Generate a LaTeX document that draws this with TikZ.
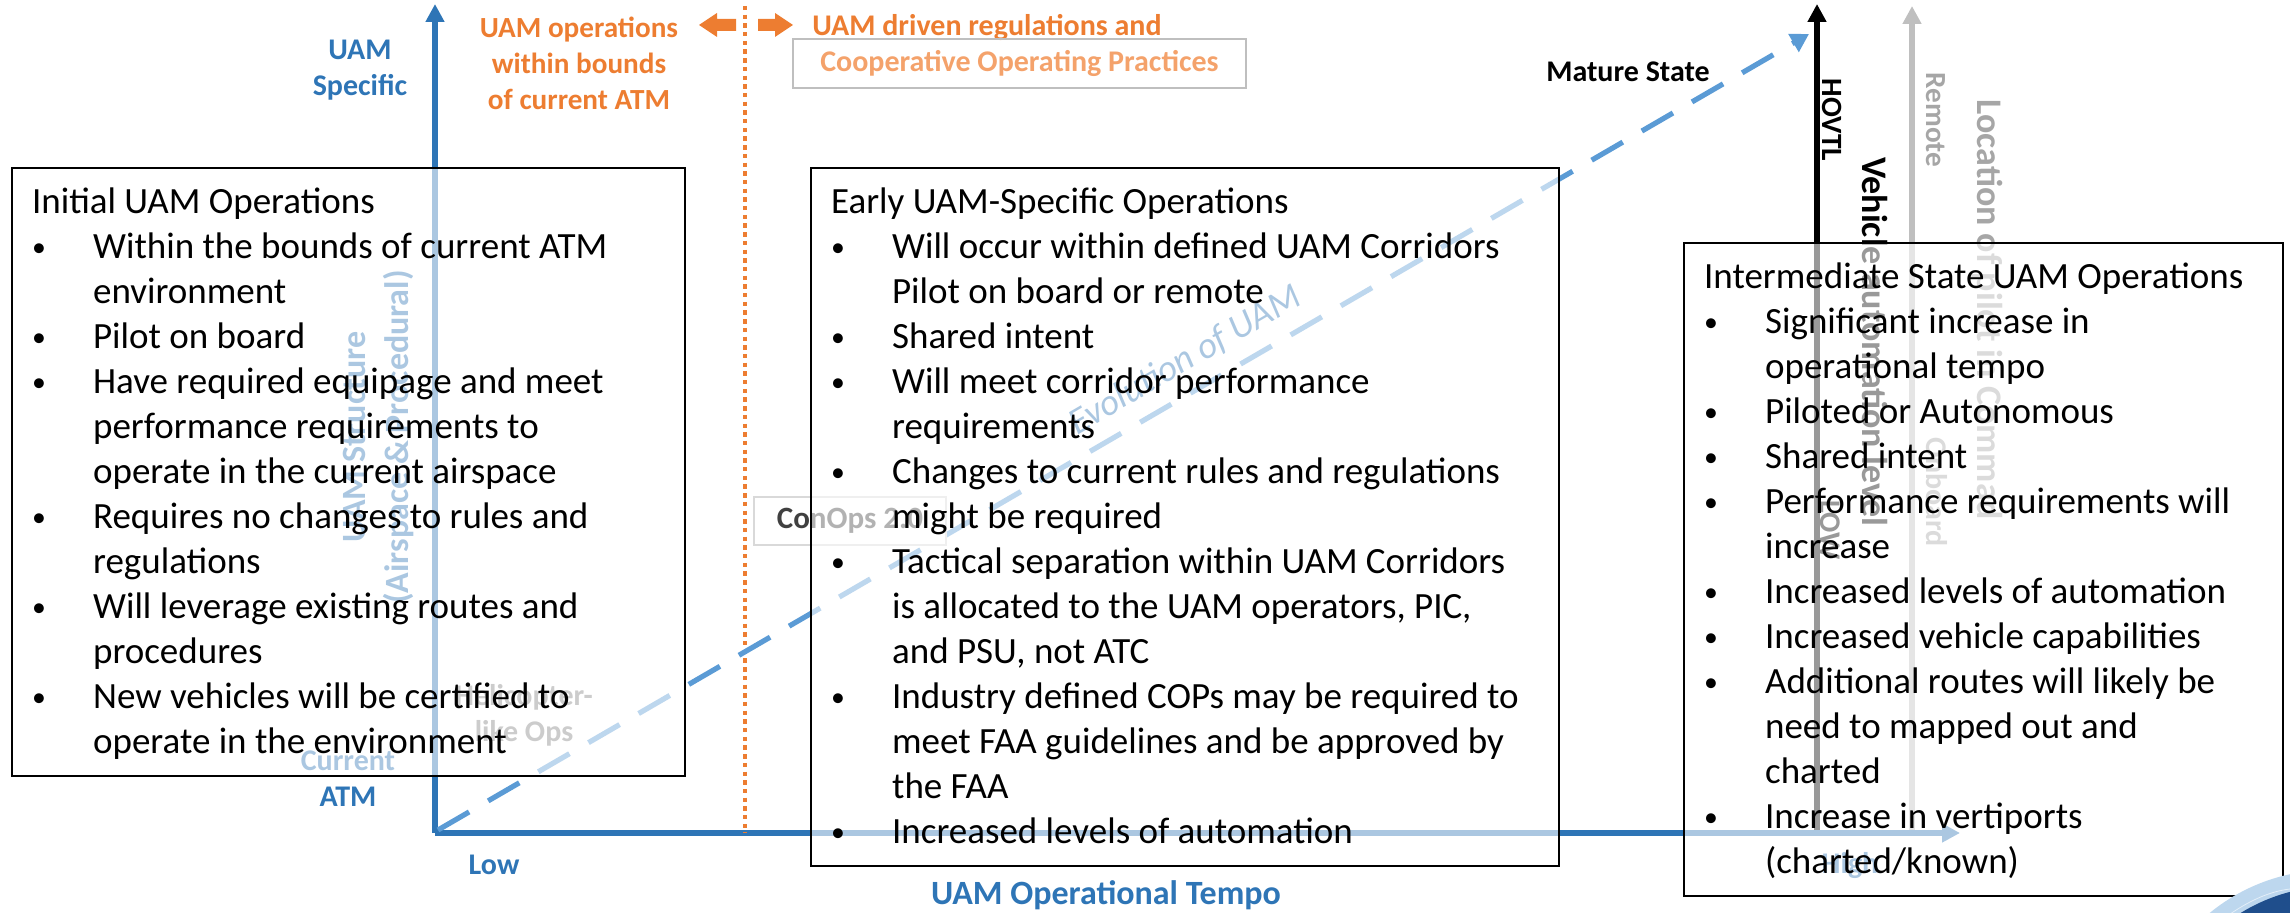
\documentclass[tikz,border=0pt]{standalone}
\usepackage{fontspec}
\usepackage{graphicx}
\setmainfont{Carlito}
\usetikzlibrary{arrows.meta}

\definecolor{axisblue}{HTML}{2E75B6}
\definecolor{dashblue}{HTML}{5B9BD5}
\definecolor{uamorange}{HTML}{ED7D31}
\definecolor{softorange}{HTML}{F4A26B}
\definecolor{pilotgray}{HTML}{A6A6A6}
\definecolor{arrowgray}{HTML}{BFBFBF}
\definecolor{labelgray}{HTML}{404040}
\definecolor{globeblue}{HTML}{1F4E8C}
\definecolor{globerim}{HTML}{BDD7EE}

% list lines inside the operation boxes
\newcommand\bul[1]{\makebox[30.5pt][l]{\raisebox{1pt}{\scalebox{0.75}{\textbullet}}}\mbox{#1}}
\newcommand\ind[1]{\hspace*{30.5pt}\mbox{#1}}
\newcommand\head[1]{\mbox{#1}}
\newcommand\opsbody[3]{\parbox[c][#2][t]{#1}{\fontsize{18.5pt}{22.5pt}\selectfont
  \parindent=0pt\leftskip=10pt\relax\rule{0pt}{22.5pt}#3}}

\tikzset{
  axisline/.style={axisblue, line width=2.6pt, -{Triangle[width=9pt,length=9pt]}},
  autoline/.style={black, line width=2.6pt, -{Triangle[width=9pt,length=9pt]}},
  pilotline/.style={arrowgray, line width=2.6pt, -{Triangle[width=9pt,length=9pt]}},
  evoline/.style={dashblue, line width=2.6pt, dash pattern=on 18pt off 11pt,
    -{Triangle[width=10pt,length=9pt]}},
  divider/.style={uamorange, line width=2.4pt, dash pattern=on 2.2pt off 2.15pt},
  opsbox/.style={draw=black, line width=1.1pt, fill=white, fill opacity=0.6,
    text opacity=1, inner sep=0pt, anchor=north west},
  lbl/.style={inner sep=0pt, font=\fontsize{15pt}{17.5pt}\selectfont\bfseries, align=center},
  bluelbl/.style={lbl, text=axisblue},
  orangelbl/.style={lbl, text=uamorange, font=\fontsize{14.6pt}{18pt}\selectfont\bfseries},
  vertlbl/.style={inner sep=0pt, rotate=-90, font=\fontsize{18pt}{21pt}\selectfont\bfseries},
}

\begin{document}
\begin{tikzpicture}[x=0.5pt, y=-0.5pt]
\useasboundingbox (0,0) rectangle (2290,913);

% ---------- frame of reference ----------
\coordinate (origin) at (435,833);
\coordinate (ytip) at (435,4);
\coordinate (xtip) at (1960,833);
\coordinate (evostart) at (438,830);
\coordinate (evotip) at (1809,34);
\coordinate (autobase) at (1817,830);
\coordinate (autotip) at (1817,4);
\coordinate (pilotbase) at (1912,830);
\coordinate (pilottip) at (1912,6);
\coordinate (divtop) at (745,6);
\coordinate (divbot) at (745,833);

\draw[pilotline] (pilotbase) -- (pilottip);
\draw[autoline] (autobase) -- (autotip);
\draw[axisline] (origin) -- (ytip);
\draw[axisline] (origin) -- (xtip);
\draw[divider] (divtop) -- (divbot);
\draw[evoline] (evostart) -- (evotip);

% orange block arrows either side of the divider
\fill[uamorange] (699,25) -- (717,13) -- (717,19) -- (736,19) -- (736,31) -- (717,31) -- (717,37) -- cycle;
\fill[uamorange] (793,25) -- (775,13) -- (775,19) -- (758,19) -- (758,31) -- (775,31) -- (775,37) -- cycle;

% ---------- labels partly covered by the boxes ----------
\node[lbl, text=axisblue, rotate=90, font=\fontsize{17pt}{21.5pt}\selectfont\bfseries]
  (ystructure) at (379,437) {UAM Structure\\(Airspace \& Procedural)};
\node[bluelbl] (current) at (348,779) {Current\\[0.5pt]ATM};
\node[lbl, text=gray] (heli) at (524,715) {Helicopter-\\[0.5pt]like Ops};
\node[draw=black!15, line width=0.6pt, fill=white, minimum width=96pt, minimum height=24pt,
  inner sep=0pt, text=labelgray, font=\fontsize{15.5pt}{18pt}\selectfont\bfseries]
  (conops) at (850,521) {ConOps 2.0};
\node[inner sep=0pt, rotate=30.2, text=axisblue, font=\fontsize{18.5pt}{22pt}\selectfont\itshape]
  (evolution) at (1185,360) {Evolution of UAM};
\node[lbl, text=black, rotate=-90, font=\fontsize{14.7pt}{17pt}\selectfont\bfseries] (hovtl) at (1832,120) {HOVTL};
\node[lbl, text=black, rotate=-90] (low2) at (1830,530) {LOW};
\node[vertlbl, text=black] (vehicle) at (1875,342) {Vehicle automation level};
\node[lbl, text=pilotgray, rotate=-90, font=\fontsize{14.6pt}{17pt}\selectfont\bfseries] (remote) at (1936,120) {Remote};
\node[lbl, text=pilotgray, rotate=-90] (onboard) at (1937,492) {Onboard};
\node[vertlbl, text=pilotgray] (pilotloc) at (1987,310) {Location of pilot in Commad};
\node[bluelbl] (high) at (1850,866) {High};

% ---------- operation boxes ----------
\node[opsbox] (initial) at (11,167) {\opsbody{336.5pt}{304pt}{%
  \head{Initial UAM Operations}\\
  \bul{Within the bounds of current ATM}\\
  \ind{environment}\\
  \bul{Pilot on board}\\
  \bul{Have required equipage and meet}\\
  \ind{performance requirements to}\\
  \ind{operate in the current airspace}\\
  \bul{Requires no changes to rules and}\\
  \ind{regulations}\\
  \bul{Will leverage existing routes and}\\
  \ind{procedures}\\
  \bul{New vehicles will be certified to}\\
  \ind{operate in the environment}}};

\node[opsbox] (early) at (810,167) {\opsbody{374pt}{349pt}{%
  \head{Early UAM-Specific Operations}\\
  \bul{Will occur within defined UAM Corridors}\\
  \ind{Pilot on board or remote}\\
  \bul{Shared intent}\\
  \bul{Will meet corridor performance}\\
  \ind{requirements}\\
  \bul{Changes to current rules and regulations}\\
  \ind{might be required}\\
  \bul{Tactical separation within UAM Corridors}\\
  \ind{is allocated to the UAM operators, PIC,}\\
  \ind{and PSU, not ATC}\\
  \bul{Industry defined COPs may be required to}\\
  \ind{meet FAA guidelines and be approved by}\\
  \ind{the FAA}\\
  \bul{Increased levels of automation}}};

\node[opsbox] (intermediate) at (1683,242) {\opsbody{299.5pt}{326.5pt}{%
  \head{Intermediate State UAM Operations}\\
  \bul{Significant increase in}\\
  \ind{operational tempo}\\
  \bul{Piloted or Autonomous}\\
  \bul{Shared intent}\\
  \bul{Performance requirements will}\\
  \ind{increase}\\
  \bul{Increased levels of automation}\\
  \bul{Increased vehicle capabilities}\\
  \bul{Additional routes will likely be}\\
  \ind{need to mapped out and}\\
  \ind{charted}\\
  \bul{Increase in vertiports}\\
  \ind{(charted/known)}}};

% ---------- labels in the open ----------
\node[bluelbl] (uamspecific) at (360,70) {UAM\\[0.5pt]Specific};
\node[orangelbl] (withinatm) at (579,63) {UAM operations\\within bounds\\of current ATM};
\node[lbl, text=uamorange, anchor=west] (driven) at (812,28) {UAM driven regulations and};
\node[draw=arrowgray, line width=0.6pt, minimum width=226.5pt, minimum height=24.5pt,
  inner sep=0pt, text=softorange, font=\fontsize{15pt}{18pt}\selectfont\bfseries]
  (coops) at (1019.5,63.5) {Cooperative Operating Practices};
\node[lbl, text=black] (mature) at (1628,72) {Mature State};
\node[bluelbl] (low) at (494,865) {Low};
\node[bluelbl, font=\fontsize{17pt}{20pt}\selectfont\bfseries] (tempo) at (1106,895) {UAM Operational Tempo};

% ---------- corner emblem ----------
\begin{scope}
  \clip (0,0) rectangle (2290,913);
  \fill[globerim] (2330,1060) circle[radius=190];
  \fill[globeblue] (2336,1068) circle[radius=182];
  \draw[white, line width=0.4pt, opacity=0.6] (2215,925) .. controls (2260,890) and (2290,885) .. (2320,890);
\end{scope}
\end{tikzpicture}
\end{document}
